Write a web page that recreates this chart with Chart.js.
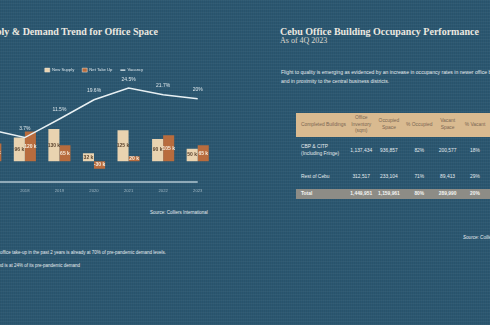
<!DOCTYPE html>
<html><head><meta charset="utf-8">
<script src="https://cdn.jsdelivr.net/npm/chart.js@4"></script>
<style>
html,body{margin:0;padding:0;width:490px;height:325px;overflow:hidden;}
body{position:relative;background-color:#2b5771;
background-image:repeating-linear-gradient(0deg,rgba(255,255,255,0.035) 0 1px,rgba(0,0,0,0) 1px 3px),repeating-linear-gradient(90deg,rgba(0,0,0,0.05) 0 1px,rgba(0,0,0,0) 1px 2px);
font-family:"Liberation Sans",Arial,sans-serif;color:#e6ecef;}
.abs{position:absolute;white-space:nowrap;line-height:1;}
.ttl{font-family:"Liberation Serif","Times New Roman",serif;font-weight:bold;font-size:10px;color:#ece8e0;}
#chartWrap{position:absolute;left:-43px;top:60px;width:258px;height:139px;}
table{position:absolute;left:296px;top:113px;border-collapse:collapse;table-layout:fixed;font-size:4.9px;}
td{padding:0;text-align:center;vertical-align:middle;line-height:1.35;white-space:nowrap;}
tr.h td{background:#d9ba90;color:#7a6652;height:24px;}
tr.r1 td{height:28px;color:#e6ecef;}
tr.r2 td{height:24px;color:#e6ecef;}
tr.t td{height:10px;background:#8d8c86;color:#f4f4f2;font-weight:bold;}
td.l{text-align:left;padding-left:5px;}
</style></head>
<body>
<div class="abs ttl" style="right:332px;top:27px;">Supply &amp; Demand Trend for Office Space</div>
<div class="abs ttl" style="left:280px;top:27px;">Cebu Office Building Occupancy Performance</div>
<div class="abs" style="left:280px;top:37px;font-family:'Liberation Serif',serif;font-size:8px;color:#dcd8d0;">As of 4Q 2023</div>
<div class="abs" style="left:281px;top:68px;font-size:5.1px;line-height:9px;color:#e6ecef;">Flight to quality is emerging as evidenced by an increase in occupancy rates in newer office buildings<br>and in proximity to the central business districts.</div>
<div id="chartWrap"><canvas id="c" width="258" height="139"></canvas></div>
<div class="abs" style="left:150px;top:211px;font-size:4.5px;color:#e6ecef;">Source: Colliers International</div>
<div class="abs" style="right:324px;top:251px;font-size:4.5px;color:#e6ecef;">Net office take-up in the past 2 years is already at 70% of pre-pandemic demand levels.</div>
<div class="abs" style="right:410px;top:264px;font-size:4.5px;color:#e6ecef;">Leasing demand is at 24% of its pre-pandemic demand</div>
<table>
<colgroup><col style="width:54px"><col style="width:32px"><col style="width:36px"><col style="width:38px"><col style="width:32px"><col style="width:40px"></colgroup>
<tr class="h"><td class="l">Completed Buildings</td><td>Office<br>Inventory<br>(sqm)</td><td>Occupied<br>Space</td><td>% Occupied</td><td>Vacant<br>Space</td><td>% Vacant</td></tr>
<tr class="r1"><td class="l">CBP &amp; CITP<br>(Including Fringe)</td><td>1,137,434</td><td>936,857</td><td>82%</td><td>200,577</td><td>18%</td></tr>
<tr class="r2"><td class="l">Rest of Cebu</td><td>312,517</td><td>233,104</td><td>71%</td><td>89,413</td><td>29%</td></tr>
<tr class="t"><td class="l">Total</td><td>1,449,951</td><td>1,159,961</td><td>80%</td><td>289,990</td><td>20%</td></tr>
</table>
<div class="abs" style="left:463px;top:236px;font-size:4.6px;font-style:italic;color:#e6ecef;">Source: Colliers International</div>
<script>
const years = ['2017','2018','2019','2020','2021','2022','2023'];
const newSupply = [110, 96, 130, 32, 125, 90, 50];
const netTakeUp = [72, 120, 65, -30, 20, 105, 65];
const vacancy = [7, 3.7, 11.5, 19.6, 24.5, 21.7, 20];

const valueLabels = {
  id:'valueLabels',
  afterDatasetsDraw(chart){
    const ctx = chart.ctx;
    ctx.save();
    ctx.textAlign='center'; ctx.textBaseline='middle';
    chart.data.datasets.forEach((ds,di)=>{
      const meta = chart.getDatasetMeta(di);
      meta.data.forEach((el,i)=>{
        const v = ds.data[i];
        if(ds.type==='line'){
          ctx.font='5px "Liberation Sans", Arial, sans-serif';
          ctx.fillStyle='#dfe8ec';
          ctx.fillText(v+'%', el.x, el.y-9);
        } else {
          const p = el.getProps(['x','y','base'],true);
          ctx.font='bold 5px "Liberation Sans", Arial, sans-serif';
          ctx.fillStyle = di===0 ? '#5b4530' : '#f6ecdc';
          ctx.fillText(v+' k', p.x, (p.y+p.base)/2);
        }
      });
    });
    ctx.restore();
  }
};
const axisLine = {
  id:'axisLine',
  afterDraw(chart){
    const {ctx, chartArea, scales} = chart;
    const xEnd = scales.x.getPixelForValue(years.length-1);
    ctx.save();
    ctx.strokeStyle='#b3c7d2'; ctx.lineWidth=1.5;
    ctx.beginPath(); ctx.moveTo(chartArea.left, chartArea.bottom); ctx.lineTo(xEnd, chartArea.bottom); ctx.stroke();
    ctx.restore();
  }
};

new Chart(document.getElementById('c'), {
  data:{
    labels: years,
    datasets:[
      {type:'bar', label:'New Supply', data:newSupply, backgroundColor:'#e9d3b0', yAxisID:'y', order:2, categoryPercentage:0.64, barPercentage:1.0},
      {type:'bar', label:'Net Take Up', data:netTakeUp, backgroundColor:'#b86c3e', yAxisID:'y', order:2, categoryPercentage:0.64, barPercentage:1.0},
      {type:'line', label:'Vacancy', data:vacancy, borderColor:'#e8f0f3', backgroundColor:'#e8f0f3', borderWidth:1.5, pointRadius:0, tension:0, yAxisID:'y2', order:1}
    ]
  },
  options:{
    responsive:false, animation:false, devicePixelRatio:1,
    layout:{padding:{left:16,right:0,top:0,bottom:0}},
    plugins:{
      legend:{position:'top', labels:{color:'#d8e3e9', font:{size:4.2, family:'"Liberation Sans", Arial'}, boxWidth:4, boxHeight:4, padding:8,
        generateLabels(chart){
          return chart.data.datasets.map((ds,i)=>({text:ds.label, fillStyle:ds.backgroundColor, strokeStyle:ds.type==='line'?ds.borderColor:'#f0e6d6', lineWidth:ds.type==='line'?1.2:0.5, pointStyle:ds.type==='line'?'line':'rect', datasetIndex:i, fontColor:'#d8e3e9'}));
        }, usePointStyle:true, pointStyleWidth:5}},
      tooltip:{enabled:false}
    },
    scales:{
      x:{grid:{display:false, drawTicks:false}, border:{display:false}, ticks:{color:'#9fb6c3', font:{size:4.2, family:'"Liberation Sans", Arial'}, padding:6, maxRotation:0, autoSkip:false}},
      y:{display:false, min:-84, max:320},
      y2:{display:false, min:-15, max:27}
    }
  },
  plugins:[valueLabels, axisLine]
});
</script>
</body></html>
